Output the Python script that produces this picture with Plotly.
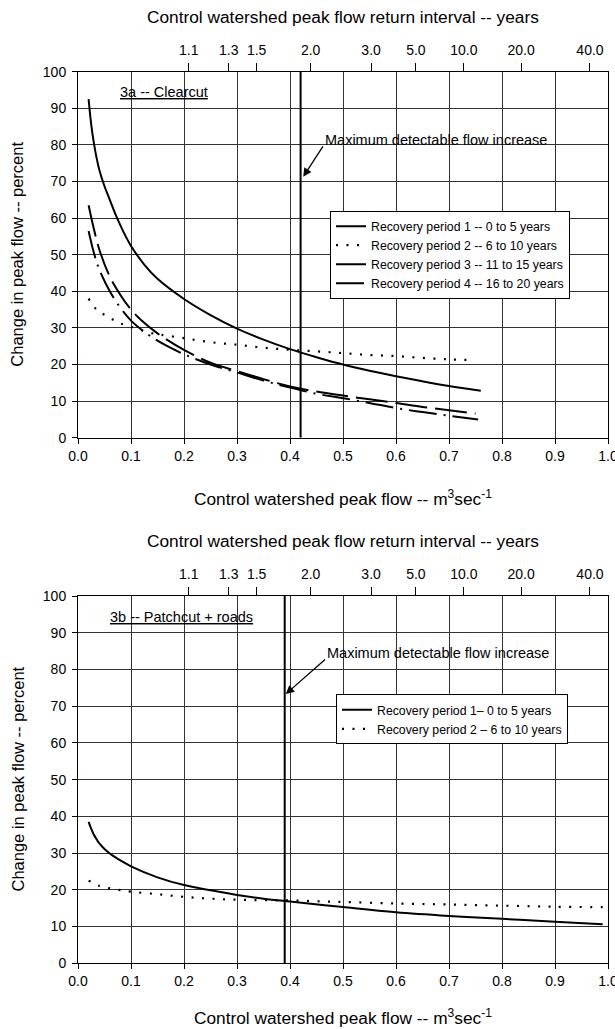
import plotly.graph_objects as go

# ---------------- data: panel 3a (Clearcut) ----------------
a_p1_x = [0.02, 0.025, 0.03, 0.035, 0.04, 0.05, 0.06, 0.07, 0.08, 0.09, 0.10, 0.125, 0.15, 0.20, 0.25, 0.30, 0.35, 0.40, 0.45, 0.50, 0.55, 0.60, 0.65, 0.70, 0.76]
a_p1_y = [92.5, 85.5, 80.5, 76.5, 73.3, 68.7, 65.0, 61.3, 58.0, 55.0, 52.4, 47.3, 43.4, 37.9, 33.5, 29.8, 26.8, 24.2, 22.0, 20.0, 18.3, 16.8, 15.4, 14.1, 12.8]

a_p2_x = [0.02, 0.035, 0.057, 0.077, 0.10, 0.135, 0.157, 0.20, 0.25, 0.30, 0.35, 0.40, 0.45, 0.50, 0.55, 0.60, 0.65, 0.70, 0.745]
a_p2_y = [38.0, 35.0, 33.0, 31.4, 30.3, 28.7, 28.1, 27.2, 26.1, 25.4, 24.6, 24.0, 23.6, 23.1, 22.6, 22.3, 21.8, 21.4, 21.2]

a_p3_x = [0.02, 0.03, 0.04, 0.06, 0.08, 0.10, 0.12, 0.15, 0.20, 0.25, 0.30, 0.35, 0.40, 0.45, 0.50, 0.55, 0.60, 0.65, 0.70, 0.75]
a_p3_y = [63.5, 57.0, 51.5, 44.0, 39.0, 35.0, 32.0, 28.5, 24.0, 20.5, 18.2, 16.0, 14.0, 12.6, 11.5, 10.5, 9.5, 8.4, 7.5, 6.6]

a_p4_x = [0.02, 0.03, 0.04, 0.06, 0.08, 0.10, 0.12, 0.15, 0.20, 0.25, 0.30, 0.35, 0.40, 0.45, 0.50, 0.55, 0.60, 0.65, 0.70, 0.755]
a_p4_y = [56.5, 50.5, 46.0, 40.0, 35.5, 32.0, 29.5, 26.5, 22.8, 20.0, 17.8, 15.6, 13.7, 12.0, 10.8, 9.5, 8.1, 7.0, 6.0, 5.0]

# ---------------- data: panel 3b (Patchcut + roads) ----------------
b_p1_x = [0.02, 0.025, 0.03, 0.035, 0.04, 0.05, 0.06, 0.07, 0.08, 0.10, 0.15, 0.20, 0.25, 0.30, 0.35, 0.40, 0.50, 0.60, 0.70, 0.80, 0.90, 0.99]
b_p1_y = [38.5, 36.6, 35.0, 33.8, 32.7, 31.1, 29.9, 28.9, 28.0, 26.4, 23.4, 21.3, 19.9, 18.6, 17.6, 16.8, 15.3, 13.9, 12.9, 12.1, 11.3, 10.6]

b_p2_x = [0.02, 0.04, 0.06, 0.08, 0.10, 0.15, 0.20, 0.25, 0.30, 0.35, 0.40, 0.45, 0.50, 0.60, 0.70, 0.80, 0.90, 0.99]
b_p2_y = [22.5, 21.1, 20.4, 19.9, 19.5, 18.8, 18.1, 17.6, 17.3, 17.2, 17.1, 16.9, 16.7, 16.3, 16.0, 15.7, 15.4, 15.3]

# maximum detectable flow increase (control peak flow, m3/s)
detect_a = 0.42
detect_b = 0.39
detect_y = [0, 100]

# arrow tip / tail and label position (data units)
arrow_a = dict(tip=(0.425, 71.3), tail=(0.464, 80.0), text=(0.462, 81.3))
arrow_b = dict(tip=(0.392, 73.3), tail=(0.469, 83.1), text=(0.466, 84.5))

# return-interval axis
ri_pos = [0.209, 0.2845, 0.337, 0.439, 0.553, 0.6375, 0.728, 0.836, 0.966]
ri_lab = ["1.1", "1.3", "1.5", "2.0", "3.0", "5.0", "10.0", "20.0", "40.0"]

legend_a = ["Recovery period 1 -- 0 to 5 years", "Recovery period 2 -- 6 to 10 years",
            "Recovery period 3 -- 11 to 15 years", "Recovery period 4 -- 16 to 20 years"]
legend_b = ["Recovery period 1\u2013 0 to 5 years", "Recovery period 2 \u2013 6 to 10 years"]

FONT = "Liberation Sans, Arial, sans-serif"
W, H = 615, 1029
L, R = 78, 7
PW = W - L - R

def py(px):
    return 1 - px / H

fig = go.Figure()

solid = dict(color="black", width=2)
dotted = dict(color="black", width=2.2, dash="2px,8.5px")
ldash = dict(color="black", width=2, dash="32px,8px")
ldashdot = dict(color="black", width=2, dash="28px,7px,2px,7px")

# panel a traces
fig.add_trace(go.Scatter(x=a_p1_x, y=a_p1_y, mode="lines", line=solid, name=legend_a[0],
                         line_shape="spline", xaxis="x", yaxis="y", legend="legend"))
fig.add_trace(go.Scatter(x=a_p2_x, y=a_p2_y, mode="lines", line=dotted, name=legend_a[1],
                         line_shape="spline", xaxis="x", yaxis="y", legend="legend"))
fig.add_trace(go.Scatter(x=a_p3_x, y=a_p3_y, mode="lines", line=ldash, name=legend_a[2],
                         line_shape="spline", xaxis="x", yaxis="y", legend="legend"))
fig.add_trace(go.Scatter(x=a_p4_x, y=a_p4_y, mode="lines", line=ldashdot, name=legend_a[3],
                         line_shape="spline", xaxis="x", yaxis="y", legend="legend"))
fig.add_trace(go.Scatter(x=[detect_a, detect_a], y=detect_y, mode="lines",
                         line=dict(color="black", width=2), showlegend=False,
                         xaxis="x", yaxis="y", hoverinfo="skip"))
fig.add_trace(go.Scatter(x=ri_pos, y=[None] * len(ri_pos), mode="markers", showlegend=False,
                         xaxis="x2", yaxis="y", hoverinfo="skip"))

# panel b traces
fig.add_trace(go.Scatter(x=b_p1_x, y=b_p1_y, mode="lines", line=solid, name=legend_b[0],
                         line_shape="spline", xaxis="x3", yaxis="y2", legend="legend2"))
fig.add_trace(go.Scatter(x=b_p2_x, y=b_p2_y, mode="lines", line=dotted, name=legend_b[1],
                         line_shape="spline", xaxis="x3", yaxis="y2", legend="legend2"))
fig.add_trace(go.Scatter(x=[detect_b, detect_b], y=detect_y, mode="lines",
                         line=dict(color="black", width=2), showlegend=False,
                         xaxis="x3", yaxis="y2", hoverinfo="skip"))
fig.add_trace(go.Scatter(x=ri_pos, y=[None] * len(ri_pos), mode="markers", showlegend=False,
                         xaxis="x4", yaxis="y2", hoverinfo="skip"))

dom_a = [py(437.7), py(71.7)]
dom_b = [py(963.3), py(596.0)]

tickfont = dict(size=14, family=FONT, color="black")
xbase = dict(range=[0, 1], dtick=0.1, tick0=0, tickformat=".1f", showgrid=True,
             gridcolor="#333", gridwidth=1, showline=True, linecolor="black", linewidth=1,
             mirror=True, ticks="outside", ticklen=5, tickcolor="black", zeroline=False,
             tickfont=tickfont, automargin=False, fixedrange=True, ticklabeloverflow="allow")
ybase = dict(range=[0, 100], dtick=10, tick0=0, showgrid=True, gridcolor="#333", gridwidth=1,
             showline=True, linecolor="black", linewidth=1, mirror=True, ticks="outside",
             ticklen=5, tickcolor="black", zeroline=False, ticklabelstandoff=3,
             tickfont=tickfont, automargin=False, fixedrange=True)
xtop = dict(range=[0, 1], tickmode="array", tickvals=ri_pos, ticktext=ri_lab, side="top",
            showgrid=False, showline=True, linecolor="black", ticks="outside", ticklen=8,
            tickcolor="black", zeroline=False, ticklabelstandoff=2,
            tickfont=tickfont, automargin=False, fixedrange=True, ticklabeloverflow="allow")

legfont = dict(size=12.3, family=FONT, color="black")
fig.update_layout(
    width=W, height=H,
    margin=dict(l=L, r=R, t=0, b=0),
    paper_bgcolor="white", plot_bgcolor="white",
    font=dict(family=FONT, color="black", size=14),
    xaxis=dict(**xbase, anchor="y", domain=[0, 1]),
    yaxis=dict(**ybase, anchor="x", domain=dom_a),
    xaxis2=dict(**xtop, anchor="y", overlaying="x"),
    xaxis3=dict(**xbase, anchor="y2", domain=[0, 1]),
    yaxis2=dict(**ybase, anchor="x3", domain=dom_b),
    xaxis4=dict(**xtop, anchor="y2", overlaying="x3"),
    legend=dict(x=(330 - L) / PW, y=py(210.7), xanchor="left", yanchor="top",
                bgcolor="white", bordercolor="black", borderwidth=1,
                font=legfont, tracegroupgap=0, itemwidth=30),
    legend2=dict(x=(336 - L) / PW, y=py(694.3), xanchor="left", yanchor="top",
                 bgcolor="white", bordercolor="black", borderwidth=1,
                 font=legfont, tracegroupgap=0, itemwidth=30),
    showlegend=True,
)

ann = []
xtitle_font = dict(size=17.3, family=FONT, color="black")
ytitle_font = dict(size=16.5, family=FONT, color="black")
xt = "Control watershed peak flow -- m<sup>3</sup>sec<sup>-1</sup>"
tt = "Control watershed peak flow return interval -- years"
yt = "Change in peak flow -- percent"
for (ybot, ytop, ymid) in [(498, 17, 254.7), (1017, 541, 779.5)]:
    ann.append(dict(text=xt, x=0.5, y=py(ybot), xref="paper", yref="paper", showarrow=False,
                    font=xtitle_font, xanchor="center", yanchor="middle"))
    ann.append(dict(text=tt, x=0.5, y=py(ytop), xref="paper", yref="paper", showarrow=False,
                    font=xtitle_font, xanchor="center", yanchor="middle"))
    ann.append(dict(text=yt, x=(17 - L) / PW, y=py(ymid), xref="paper", yref="paper",
                    showarrow=False, font=ytitle_font, textangle=-90,
                    xanchor="center", yanchor="middle"))

for arr, xr, yr in [(arrow_a, "x", "y"), (arrow_b, "x3", "y2")]:
    ann.append(dict(text="", x=arr["tip"][0], y=arr["tip"][1], ax=arr["tail"][0], ay=arr["tail"][1],
                    xref=xr, yref=yr, axref=xr, ayref=yr, showarrow=True, arrowhead=2,
                    arrowsize=1.3, arrowwidth=1.3, arrowcolor="black"))
    ann.append(dict(text="Maximum detectable flow increase", x=arr["text"][0], y=arr["text"][1],
                    xref=xr, yref=yr, showarrow=False, xanchor="left", yanchor="middle",
                    font=dict(size=14.5, family=FONT, color="black")))

ann.append(dict(text="<u>3a -- Clearcut</u>", x=0.163, y=94.5, xref="x", yref="y",
                showarrow=False, font=dict(size=14.5, family=FONT, color="black")))
ann.append(dict(text="<u>3b -- Patchcut + roads</u>", x=0.196, y=94.4, xref="x3", yref="y2",
                showarrow=False, font=dict(size=14.5, family=FONT, color="black")))

fig.update_layout(annotations=ann)
fig.write_html("out.html", config={"displayModeBar": False},
               post_script="document.body.style.margin='0px';document.body.style.overflow='hidden';")
